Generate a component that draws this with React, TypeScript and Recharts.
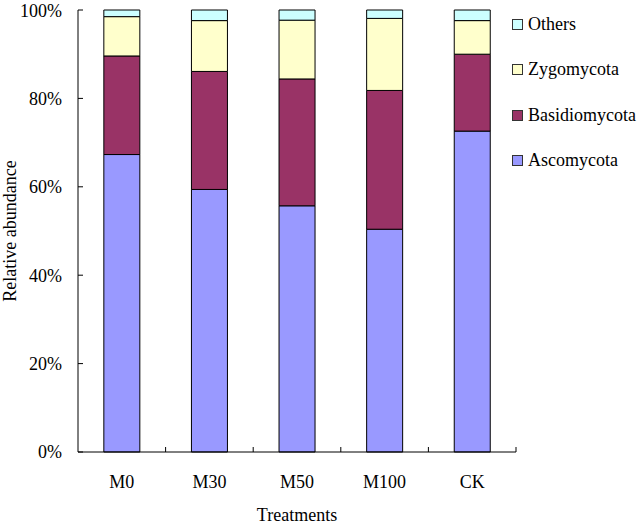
import React from "react";
import { BarChart, Bar, XAxis, YAxis } from "recharts";

const treatments = ["M0", "M30", "M50", "M100", "CK"];
const ascomycota = [67.3, 59.4, 55.7, 50.4, 72.6];
const basidiomycota = [22.3, 26.7, 28.7, 31.4, 17.4];
const zygomycota = [8.9, 11.5, 13.3, 16.3, 7.6];
const others = [1.5, 2.4, 2.3, 1.9, 2.4];
const yTicks = [0, 20, 40, 60, 80, 100];

const series = [
  { key: "Ascomycota", color: "#9999FF" },
  { key: "Basidiomycota", color: "#993366" },
  { key: "Zygomycota", color: "#FFFFCC" },
  { key: "Others", color: "#CCFFFF" },
];

const data = treatments.map((t, i) => ({
  name: t,
  Ascomycota: ascomycota[i],
  Basidiomycota: basidiomycota[i],
  Zygomycota: zygomycota[i],
  Others: others[i],
}));

const FONT = "Times New Roman, Liberation Serif, serif";
const TICK_MARGIN = 22;

// label plus an inward tick mark at the right edge of each category band
function CatTick(props: any) {
  const { x, y, payload } = props;
  const edge = x + (payload.offset || 0);
  const axisY = y - TICK_MARGIN;
  return (
    <g>
      <line x1={edge} x2={edge} y1={axisY} y2={axisY - 5} stroke="#000" />
      <text x={x} y={y} dy="0.75em" textAnchor="middle" fontSize={18} fontFamily={FONT} fill="#000">
        {payload.value}
      </text>
    </g>
  );
}

function LegendBox() {
  const items = [...series].reverse();
  return (
    <div
      style={{
        position: "absolute",
        left: 512,
        top: 2,
        width: 131,
        fontFamily: FONT,
        fontSize: 18,
        color: "#000",
      }}
    >
      {items.map((s) => (
        <div key={s.key} style={{ display: "flex", alignItems: "center", height: 45.3 }}>
          <span
            style={{
              display: "inline-block",
              boxSizing: "border-box",
              width: 11,
              height: 11,
              background: s.color,
              border: "1px solid #333",
              marginRight: 5,
            }}
          />
          {s.key}
        </div>
      ))}
    </div>
  );
}

export default function App() {
  return (
    <div style={{ position: "absolute", left: 0, top: 0, width: 643, height: 527, background: "#fff" }}>
      <BarChart
        width={643}
        height={527}
        data={data}
        margin={{ top: 10, right: 127, left: 0, bottom: 0 }}
        barCategoryGap="29.5%"
      >
        <XAxis
          dataKey="name"
          height={75}
          tickLine={false}
          tickSize={0}
          tickMargin={TICK_MARGIN}
          axisLine={{ stroke: "#000" }}
          tick={<CatTick />}
          label={{ value: "Treatments", position: "insideBottom", offset: 6, fill: "#000", fontSize: 18, fontFamily: FONT }}
        />
        <YAxis
          width={78}
          domain={[0, 100]}
          ticks={yTicks}
          tickFormatter={(v) => `${v}%`}
          tickSize={-5}
          tickMargin={21}
          axisLine={{ stroke: "#000" }}
          tickLine={{ stroke: "#000" }}
          tick={{ fill: "#000", fontSize: 18, fontFamily: FONT }}
          label={{
            value: "Relative abundance",
            angle: -90,
            position: "insideLeft",
            offset: 10,
            fill: "#000",
            fontSize: 18,
            fontFamily: FONT,
            style: { textAnchor: "middle" },
          }}
        />
        {series.map((s) => (
          <Bar
            key={s.key}
            dataKey={s.key}
            stackId="a"
            fill={s.color}
            stroke="#000"
            strokeWidth={1}
            isAnimationActive={false}
          />
        ))}
      </BarChart>
      <LegendBox />
    </div>
  );
}
